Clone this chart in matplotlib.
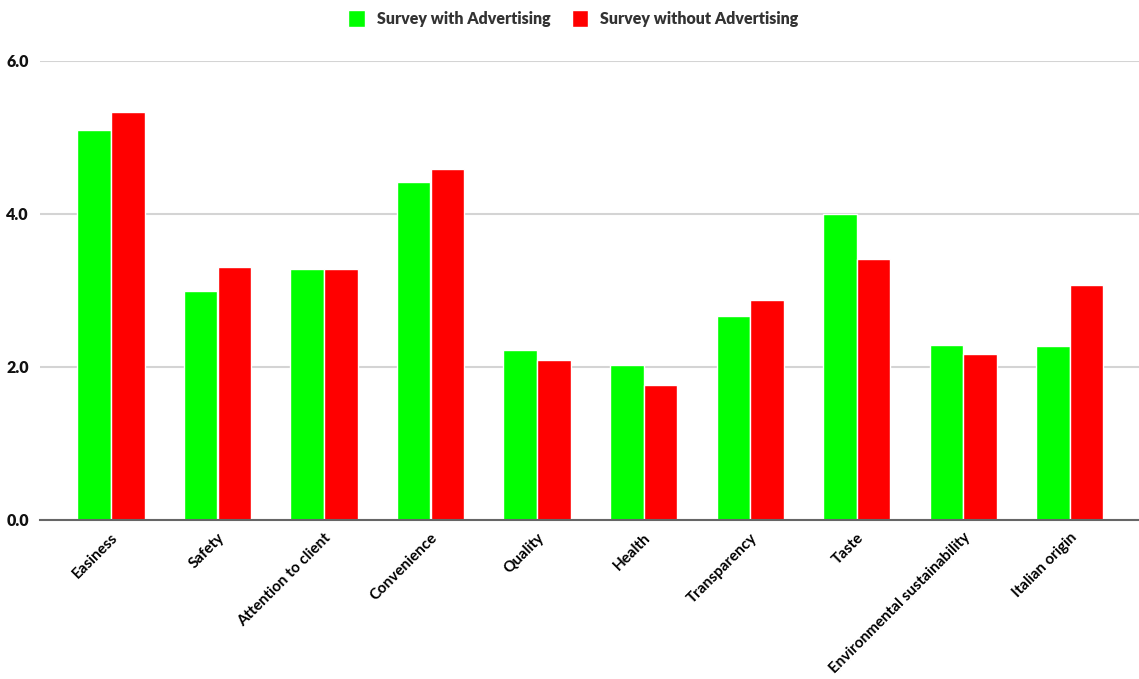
import matplotlib
matplotlib.use("Agg")
import matplotlib.pyplot as plt
import numpy as np

categories = ["Easiness", "Safety", "Attention to client", "Convenience", "Quality",
              "Health", "Transparency", "Taste", "Environmental sustainability", "Italian origin"]
with_adv = [5.09, 2.99, 3.27, 4.42, 2.22, 2.02, 2.66, 4.00, 2.28, 2.27]
without_adv = [5.33, 3.30, 3.27, 4.58, 2.08, 1.76, 2.87, 3.41, 2.17, 3.07]
series_names = ["Survey with Advertising", "Survey without Advertising"]
colors = ["#00ff00", "#ff0000"]
yticks = [0.0, 2.0, 4.0, 6.0]

plt.rcParams["font.family"] = ["Lato", "DejaVu Sans"]

fig = plt.figure(figsize=(11.39, 6.79), dpi=100)
ax = fig.add_axes([40 / 1139, 1 - 519.5 / 679, 1 - 40 / 1139, (519.5 - 60.7) / 679])

x = np.arange(len(categories))
w = 0.315
ax.bar(x - 0.158, with_adv, width=w, color=colors[0], edgecolor="white",
       linewidth=1.0, label=series_names[0], zorder=3)
ax.bar(x + 0.158, without_adv, width=w, color=colors[1], edgecolor="white",
       linewidth=1.0, label=series_names[1], zorder=3)

ax.set_ylim(0, 6)
ax.set_xlim(-0.666, 9.65)
ax.set_yticks(yticks)
ax.set_yticklabels([f"{v:.1f}" for v in yticks], fontsize=11.5, fontweight="heavy", color="#111111")
ax.set_xticks(x)
ax.set_xticklabels(categories, rotation=45, ha="right", rotation_mode="anchor",
                   fontsize=11, fontweight="bold", color="#000000")
ax.tick_params(axis="both", length=0)
ax.tick_params(axis="y", pad=8)
ax.tick_params(axis="x", pad=8)

ax.grid(axis="y", color="#d4d4d4", linewidth=1.5, zorder=0)
for s in ["top", "right", "left"]:
    ax.spines[s].set_visible(False)
ax.spines["bottom"].set_color("#666666")
ax.spines["bottom"].set_linewidth(1.5)
ax.spines["bottom"].set_zorder(4)

fig.legend(loc="center", bbox_to_anchor=(573.5 / 1139, 1 - 18.5 / 679), ncol=2, frameon=False,
           prop={"size": 11.5, "weight": "heavy"}, handlelength=1.05, handleheight=1.25,
           columnspacing=1.3, handletextpad=0.75, labelcolor="#333333")

fig.savefig("out.png", dpi=100, facecolor="white")
